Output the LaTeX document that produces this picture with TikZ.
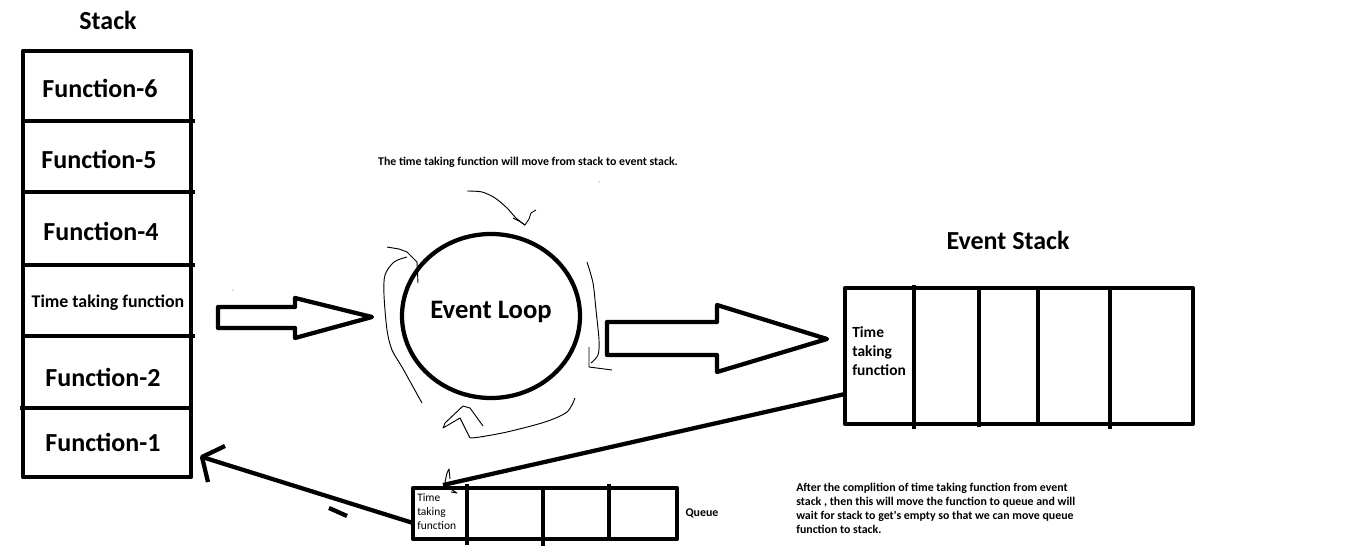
\documentclass[tikz,border=0pt]{standalone}
\usepackage{fontspec}
\setmainfont{Carlito}
\usetikzlibrary{shapes.geometric}
\begin{document}
\begin{tikzpicture}[x=0.75pt,y=-0.75pt,
  boxline/.style={line width=3.2pt, draw=black, line join=round},
  scribble/.style={line width=0.7pt, draw=black, line join=round},
  biglbl/.style={font=\bfseries\fontsize{19.5}{23}\selectfont, inner sep=0pt},
  midlbl/.style={font=\bfseries\fontsize{13.4}{16}\selectfont, inner sep=0pt},
  celllbl/.style={font=\bfseries\fontsize{11.6}{14.25}\selectfont, inner sep=0pt, align=left, anchor=north west},
  qcelllbl/.style={font=\fontsize{8.6}{10.5}\selectfont, inner sep=0pt, align=left, anchor=north west},
  note/.style={font=\bfseries\fontsize{8.9}{10.5}\selectfont, inner sep=0pt, align=left}
]
\useasboundingbox (0,0) rectangle (1357,555);
\fill[white] (0,0) rectangle (1357,555);

% ---------- Stack ----------
\node[biglbl] (stacklbl) at (108,20) {Stack};
\draw[boxline] (23,51) rectangle (191,477);
\foreach \yy in {121,192,265,336} \draw[boxline] (23,\yy) -- (195,\yy);
\draw[boxline] (20,408) -- (191,408);
\node[biglbl] (f6) at (100,88) {Function-6};
\node[biglbl] (f5) at (99,159) {Function-5};
\node[biglbl] (f4) at (101,231) {Function-4};
\node[midlbl] (ttf) at (108,303) {Time taking function};
\node[biglbl] (f2) at (103,377) {Function-2};
\node[biglbl] (f1) at (103,442) {Function-1};

% ---------- hollow arrow stack -> loop ----------
\draw[boxline] (218,307) -- (295,307) -- (295,298) -- (372,317) -- (295,338) -- (295,328) -- (218,328) -- cycle;

% ---------- Event loop ----------
\node[note] (toptext) at (528,162) {The time taking function will move from stack to event stack.};
\node[ellipse, boxline, inner sep=0pt, minimum width=133.5pt, minimum height=123pt] (loop) at (491,316) {};
\node[font=\bfseries\fontsize{20}{24}\selectfont, inner sep=0pt] (looplbl) at (491,312) {Event Loop};

% scribbles round the loop
\draw[scribble] plot[smooth] coordinates {(467,191) (482,192) (495,198) (507,208) (516,218) (525,225)};
\draw[scribble] (513,218) -- (519,221) -- (525,225) -- (529,219) -- (531,213) -- (536,210);
\draw[scribble] (387,247) -- (399,249) -- (407,252) -- (417,262);
\draw[scribble] (417,262) -- (418,283);
\draw[scribble] plot[smooth] coordinates {(407,257) (394,262) (385,275) (384,295) (387,330) (392,350) (402,367) (412,385) (422,403)};
\draw[scribble] plot[smooth] coordinates {(587,262) (593,283) (596,310) (599,340) (598,355) (591,363)};
\draw[scribble] (589,347) -- (589,367) -- (612,370);
\draw[scribble] plot[smooth] coordinates {(575,398) (567,412) (545,422) (507,432) (480,437) (470,438)};
\draw[scribble] (470,438) -- (460,418) -- (443,428) -- (445,423) -- (463,406) -- (470,408) -- (483,426);

% ---------- hollow arrow loop -> event stack ----------
\draw[boxline] (607,322) -- (717,322) -- (717,305) -- (827,339) -- (717,372) -- (717,355) -- (607,355) -- cycle;

% ---------- Event stack ----------
\node[biglbl] (eslbl) at (1008,240) {Event Stack};
\draw[boxline] (845,288) rectangle (1193,424);
\draw[boxline] (914,285) -- (914,429);
\draw[boxline] (979,288) -- (979,427);
\draw[boxline] (1038,288) -- (1038,424);
\draw[boxline] (1110,288) -- (1110,429);
\node[celllbl] (esttf) at (852,326.5) {Time\\taking\\function};
\coordinate (esout) at (845,394);

% ---------- Queue ----------
\draw[boxline] (413,488) rectangle (677,539);
\draw[boxline] (467,484) -- (467,545);
\draw[boxline] (543,488) -- (543,546);
\draw[boxline] (609,484) -- (609,539);
\node[qcelllbl] (qttf) at (417,493) {Time\\taking\\function};
\node[note] (qlbl) at (702,513) {Queue};
\coordinate (qin) at (443,485);
\coordinate (qout) at (413,523);
\coordinate (stin) at (202,457);

% event stack -> queue
\draw[boxline] (esout) -- (qin);
\draw[scribble] (445,482) -- (447,473) -- (449,469) -- (450,479);
\draw[scribble] (449,488) -- (457,493) -- (451,492);

% queue -> stack
\draw[boxline] (qout) -- (stin);
\draw[boxline] (225,446) -- (stin) -- (208,482);
\draw[boxline] (329,508) -- (347,516);

% specks
\fill[orange!80!black] (599,182) circle (0.6);
\fill[orange!80!black] (233,290) circle (0.6);

% ---------- bottom note ----------
\node[note, anchor=north west] (bottomnote) at (796,482.5) {After the complition of time taking function from event\\stack , then this will move the function to queue and will\\wait for stack to get\textquotesingle s empty so that we can move queue\\function to stack.};
\end{tikzpicture}
\end{document}
